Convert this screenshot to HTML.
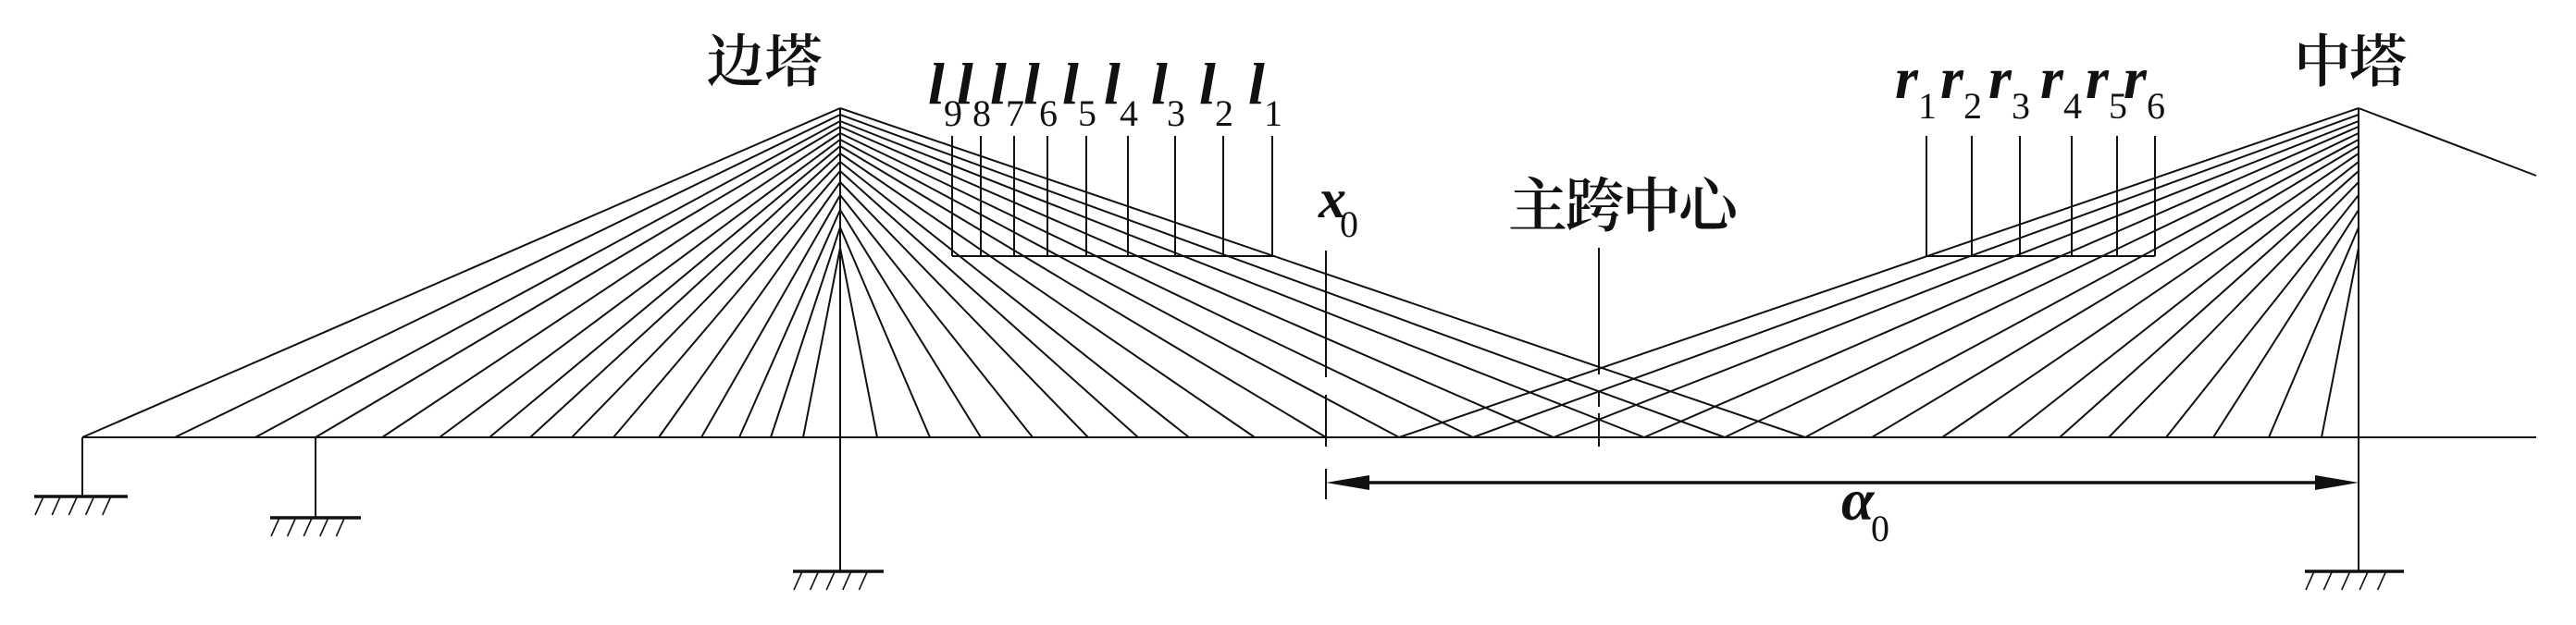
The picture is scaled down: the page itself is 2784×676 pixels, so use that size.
<!DOCTYPE html>
<html><head><meta charset="utf-8"><style>html,body{margin:0;padding:0;background:#fff;}svg{display:block}</style></head>
<body>
<svg width="2784" height="676" viewBox="0 0 2784 676" xmlns="http://www.w3.org/2000/svg">
<g stroke="#111" stroke-width="2" fill="none" id="g"></g>
<g stroke="#111" stroke-width="2" fill="none">
<line x1="89" y1="473" x2="2741" y2="473"/>
<line x1="908" y1="117" x2="908" y2="618"/>
<line x1="2549" y1="117" x2="2549" y2="618"/>
<line x1="2549" y1="117" x2="2741" y2="190"/>
<line x1="89" y1="473" x2="89" y2="537"/>
<line x1="341" y1="473" x2="341" y2="560"/>
<line x1="1433" y1="271" x2="1433" y2="408"/>
<line x1="1433" y1="427" x2="1433" y2="483"/>
<line x1="1433" y1="507" x2="1433" y2="540"/>
<line x1="1728" y1="268" x2="1728" y2="405"/>
<line x1="1728" y1="423" x2="1728" y2="440"/>
<line x1="1728" y1="447" x2="1728" y2="483"/>
<line x1="1029" y1="277" x2="1378" y2="277"/>
<line x1="2082" y1="277" x2="2329" y2="277"/>
</g>
<g stroke="#111" stroke-width="3.5">
<line x1="37" y1="537" x2="138" y2="537"/>
<line x1="292" y1="560" x2="390" y2="560"/>
<line x1="857" y1="618" x2="955" y2="618"/>
<line x1="2491" y1="618" x2="2598" y2="618"/>
<line x1="1475" y1="522" x2="2507" y2="522"/>
</g>
<polygon points="1433,522 1480,514 1480,530" fill="#111"/>
<polygon points="2549,522 2502,514 2502,530" fill="#111"/>
<g id="txt" font-family="'Liberation Serif', serif" fill="#111">
<text x="826" y="88" font-size="62" font-weight="600" text-anchor="middle" font-family="'Liberation Serif','Noto Serif CJK SC',serif" textLength="125">边塔</text>
<text x="2540" y="88" font-size="62" font-weight="600" text-anchor="middle" font-family="'Liberation Serif','Noto Serif CJK SC',serif" textLength="122">中塔</text>
<text x="1630" y="245" font-size="64" font-weight="600" font-family="'Liberation Serif','Noto Serif CJK SC',serif" textLength="248">主跨中心</text>
<g font-style="italic" font-weight="bold" font-size="60">
<text x="1425" y="235">x</text>
<text x="1990" y="562" font-size="64">α</text>
</g>
<g font-size="40">
<text x="1448" y="256">0</text>
<text x="2022" y="585">0</text>
</g>
</g>
<script>
(function(){
var NS="http://www.w3.org/2000/svg";
var g=document.getElementById('g');
function L(a,b,c,d,w){var l=document.createElementNS(NS,'line');l.setAttribute('x1',a);l.setAttribute('y1',b);l.setAttribute('x2',c);l.setAttribute('y2',d);if(w)l.setAttribute('stroke-width',w);g.appendChild(l);}
var A=[117,124,131,137,144,151,158,166,175,185,197,211,227,246,268];
var Lft=[89,189,276,341,413,475,529,573,618,663,712,758,799,833,868];
var Rgt=[1951,1864,1777,1679,1592,1512,1433,1356,1285,1230,1176,1116,1060,1005,948];
var M=[1512,1592,1679,1777,1864,1951,2023,2099,2170,2226,2279,2341,2392,2452,2509];
for(var i=0;i<15;i++){L(908,A[i],Lft[i],473);L(908,A[i],Rgt[i],473);L(2549,A[i],M[i],473);}
function hatch(x0,x1,y){for(var k=0;k<5;k++){var x=x0+10+k*((x1-x0-10)/5);L(x,y,x-9,y+20,1.6);}}
hatch(37,138,537);hatch(292,390,560);hatch(857,955,618);hatch(2491,2598,618);
var lx=[1375,1322,1270,1219,1174,1132,1096,1060,1029];
for(var i=0;i<9;i++)L(lx[i],147,lx[i],277);
var rx=[2082,2131,2183,2239,2288,2329];
for(var i=0;i<6;i++)L(rx[i],147,rx[i],277);
var t=document.getElementById('txt');
function T(x,y,s,sz,it){var e=document.createElementNS(NS,'text');e.setAttribute('x',x);e.setAttribute('y',y);e.setAttribute('font-size',sz);if(it){e.setAttribute('font-style','italic');e.setAttribute('font-weight','bold');}e.textContent=s;t.appendChild(e);}
for(var i=0;i<9;i++){T(lx[i]-26,112,'l',64,1);T(lx[i]-9,136,String(i+1),40,0);}
for(var i=0;i<6;i++){T(rx[i]-34,106,'r',64,1);T(rx[i]-9,128,String(i+1),40,0);}
})();
</script>
</svg>
</body></html>
